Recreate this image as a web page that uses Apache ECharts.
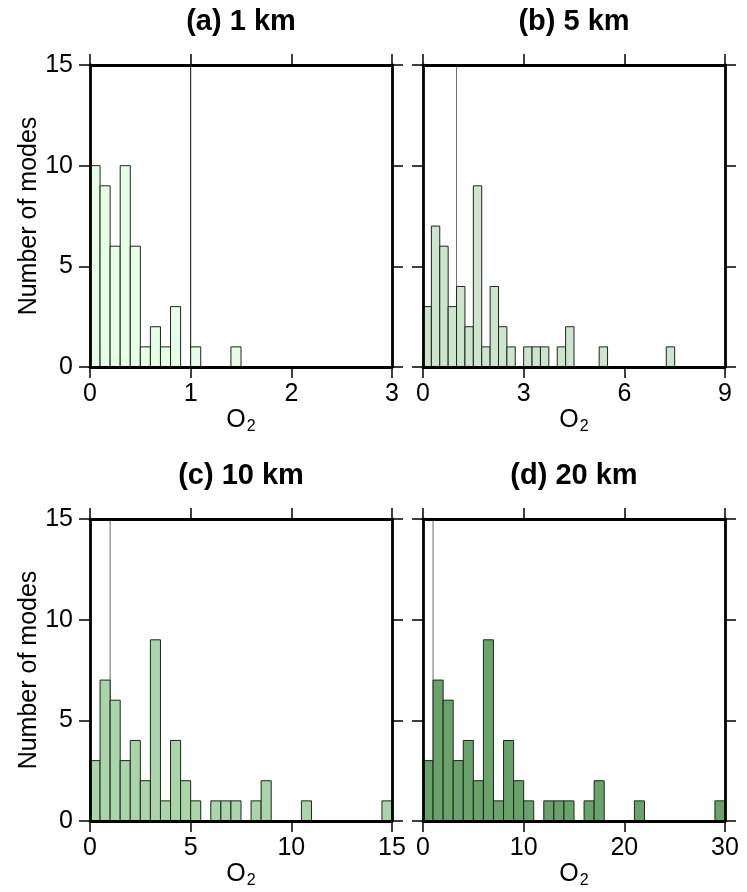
<!DOCTYPE html>
<html>
<head>
<meta charset="utf-8">
<script src="https://cdn.jsdelivr.net/npm/echarts@6/dist/echarts.min.js"></script>
<style>
  html, body { margin: 0; padding: 0; background: #fff; }
  #chart { width: 747px; height: 892px; }
</style>
</head>
<body>
<div id="chart"></div>
<script>
// histogram counts per bin
const countsA = [10, 9, 6, 10, 6, 1, 2, 1, 3, 0, 1, 0, 0, 0, 1];
const countsB = [3, 7, 6, 3, 4, 2, 9, 1, 4, 2, 1, 0, 1, 1, 1, 0, 1, 2, 0, 0, 0, 1, 0, 0, 0, 0, 0, 0, 0, 1];
const countsC = [3, 7, 6, 3, 4, 2, 9, 1, 4, 2, 1, 0, 1, 1, 1, 0, 1, 2, 0, 0, 0, 1, 0, 0, 0, 0, 0, 0, 0, 1];
const countsD = [3, 7, 6, 3, 4, 2, 9, 1, 4, 2, 1, 0, 1, 1, 1, 0, 1, 2, 0, 0, 0, 1, 0, 0, 0, 0, 0, 0, 0, 1];

const binWidths = [0.1, 0.25, 0.5, 1];
const xMax = [3, 9, 15, 30];
const xStep = [1, 3, 5, 10];
const titles = ['(a) 1 km', '(b) 5 km', '(c) 10 km', '(d) 20 km'];
const yTicks = [0, 5, 10, 15];
const refO2 = 1;

const panels = [
    { counts: countsA, color: '#e6fde6', refColor: '#000', left: 90, top: 65 },
    { counts: countsB, color: '#cde5cd', refColor: '#6a6a6a', left: 423, top: 65 },
    { counts: countsC, color: '#aad4aa', refColor: '#6a6a6a', left: 90, top: 519 },
    { counts: countsD, color: '#6aa36a', refColor: '#6a6a6a', left: 423, top: 519 }
];

const FONT = '"Liberation Sans", Arial, Helvetica, sans-serif';

function toBins(counts, w) {
    const out = [];
    counts.forEach((c, k) => {
        if (c > 0) out.push([k * w, (k + 1) * w, c]);
    });
    return out;
}

function renderBar(params, api) {
    const topLeft = api.coord([api.value(0), api.value(2)]);
    const bottomRight = api.coord([api.value(1), 0]);
    return {
        type: 'rect',
        shape: {
            x: topLeft[0],
            y: topLeft[1],
            width: bottomRight[0] - topLeft[0],
            height: bottomRight[1] - topLeft[1]
        },
        style: api.style({ stroke: '#222', lineWidth: 1 })
    };
}

const frameLine = { show: true, onZero: false, lineStyle: { color: '#000', width: 2.8 } };
const tickStyle = { show: true, inside: false, length: 11, lineStyle: { color: '#000', width: 1.5 } };

const grid = [], xAxis = [], yAxis = [], series = [], graphic = [];

panels.forEach((p, i) => {
    grid.push({ left: p.left, top: p.top, width: 302, height: 302 });

    const xBase = {
        type: 'value', gridIndex: i, min: 0, max: xMax[i], interval: xStep[i],
        splitLine: { show: false }, axisLine: frameLine, axisTick: tickStyle, z: 5
    };
    xAxis.push(Object.assign({}, xBase, {
        position: 'bottom',
        name: 'O{s|2}',
        nameLocation: 'middle',
        nameGap: 27,
        nameTextStyle: {
            fontFamily: FONT, fontSize: 25, color: '#000',
            rich: { s: { fontFamily: FONT, fontSize: 16, color: '#000', padding: [13, 0, 0, 1] } }
        },
        axisLabel: {
            show: true, margin: 15, fontFamily: FONT, fontSize: 25, color: '#000',
            showMinLabel: true, showMaxLabel: true
        }
    }));
    xAxis.push(Object.assign({}, xBase, { position: 'top', axisLabel: { show: false } }));

    const yBase = {
        type: 'value', gridIndex: i, min: 0, max: 15, interval: 5,
        splitLine: { show: false }, axisLine: frameLine, axisTick: tickStyle, z: 5
    };
    const showLabels = (i % 2 === 0);
    yAxis.push(Object.assign({}, yBase, {
        position: 'left',
        name: showLabels ? 'Number of modes' : '',
        nameLocation: 'middle',
        nameGap: 46,
        nameTextStyle: { fontFamily: FONT, fontSize: 25, color: '#000' },
        axisLabel: { show: showLabels, margin: 17, fontFamily: FONT, fontSize: 25, color: '#000' }
    }));
    yAxis.push(Object.assign({}, yBase, { position: 'right', axisLabel: { show: false } }));

    series.push({
        type: 'custom',
        xAxisIndex: 2 * i,
        yAxisIndex: 2 * i,
        renderItem: renderBar,
        itemStyle: { color: p.color },
        encode: { x: [0, 1], y: 2 },
        data: toBins(p.counts, binWidths[i]),
        z: 3,
        silent: true
    });

    series.push({
        type: 'line',
        xAxisIndex: 2 * i,
        yAxisIndex: 2 * i,
        data: [[refO2, yTicks[0]], [refO2, yTicks[yTicks.length - 1]]],
        symbol: 'none',
        lineStyle: { color: p.refColor, width: 1 },
        z: 2,
        silent: true
    });

    graphic.push({
        type: 'text',
        x: p.left + 151,
        y: p.top - 43,
        style: {
            text: titles[i],
            font: 'bold 29px ' + FONT,
            fill: '#000',
            align: 'center',
            verticalAlign: 'middle'
        }
    });
});

const chart = echarts.init(document.getElementById('chart'), null, { renderer: 'canvas' });
chart.setOption({
    animation: false,
    backgroundColor: '#fff',
    grid: grid,
    xAxis: xAxis,
    yAxis: yAxis,
    series: series,
    graphic: graphic
});
</script>
</body>
</html>
